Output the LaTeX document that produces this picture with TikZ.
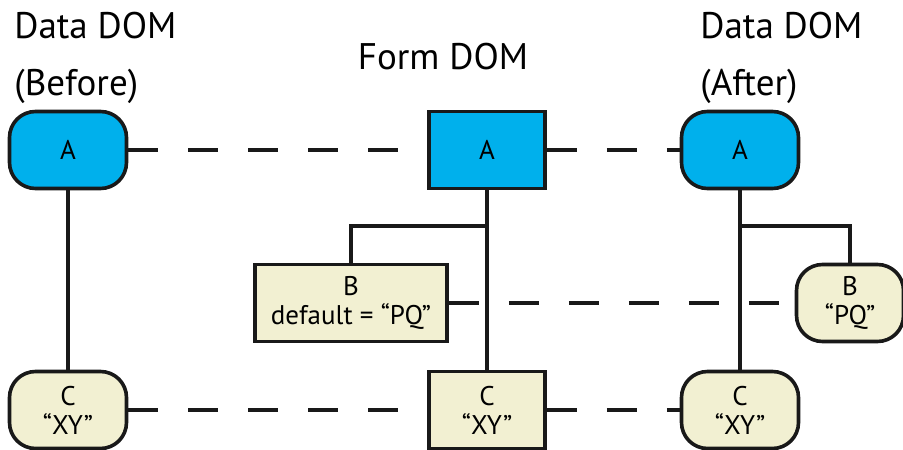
\documentclass[tikz,border=0pt]{standalone}
\usepackage{fontspec}
\setmainfont{PT Sans}
\usepackage{tikz}
\definecolor{domblue}{RGB}{0,176,236}
\definecolor{domcream}{RGB}{242,240,210}
\tikzstyle{datanode} = [rectangle, rounded corners=13pt, minimum width=58.5pt, minimum height=38.5pt, text centered, align=center, draw=black!90, line width=1.8pt, font=\fontsize{13.5}{14.5}\selectfont]
\tikzstyle{formnode} = [rectangle, minimum width=58pt, minimum height=38.5pt, text centered, align=center, draw=black!90, line width=1.8pt, font=\fontsize{13.5}{14.5}\selectfont]
\tikzstyle{title} = [align=left, inner sep=0pt, font=\fontsize{18.5}{28.5}\selectfont]
\tikzstyle{tree} = [line width=2pt, black!90]
\tikzstyle{link} = [line width=2pt, black!90, dash pattern=on 15pt off 15pt]

\begin{document}
\begin{tikzpicture}[node distance=130pt]
  \useasboundingbox (0,0) rectangle (451.5pt,-224.5pt);
  \node (before)[title, anchor=north west] at (7pt,-6pt){Data DOM\\(Before)};
  \node (form)[title, anchor=north] at (221.5pt,-21.5pt){Form DOM};
  \node (after)[title, anchor=north west] at (350pt,-6pt){Data DOM\\(After)};
  \node (dA)[datanode, fill=domblue] at (34pt,-75pt){A};
  \node (dC)[datanode, fill=domcream, below of=dA]{C\\“XY”};
  \node (fA)[formnode, fill=domblue, right of=dA, xshift=79.5pt]{A};
  \node (fC)[formnode, fill=domcream, below of=fA]{C\\“XY”};
  \node (fB)[formnode, fill=domcream, minimum width=96pt, below of=fA, xshift=-68pt, yshift=53.5pt]{B\\default = “PQ”};
  \node (aA)[datanode, fill=domblue, right of=fA, xshift=-3.5pt]{A};
  \node (aC)[datanode, fill=domcream, below of=aA]{C\\“XY”};
  \node (aB)[datanode, fill=domcream, minimum width=53.5pt, below of=aA, xshift=55pt, yshift=53.5pt]{B\\“PQ”};
  \draw[tree] (dA)--(dC);
  \draw[tree] (fA)--(fC);
  \draw[tree] (aA)--(aC);
  \draw[tree] (fB.north) -- ++(0,18.5pt) -| (fA.south);
  \draw[tree] (aB.north) -- ++(0,18.5pt) -| (aA.south);
  \draw[link] (dA.east)--(fA.west);
  \draw[link] (fA.east)--(aA.west);
  \draw[link] (fB.east)--(aB.west);
  \draw[link] (dC.east)--(fC.west);
  \draw[link] (fC.east)--(aC.west);
\end{tikzpicture}
\end{document}
